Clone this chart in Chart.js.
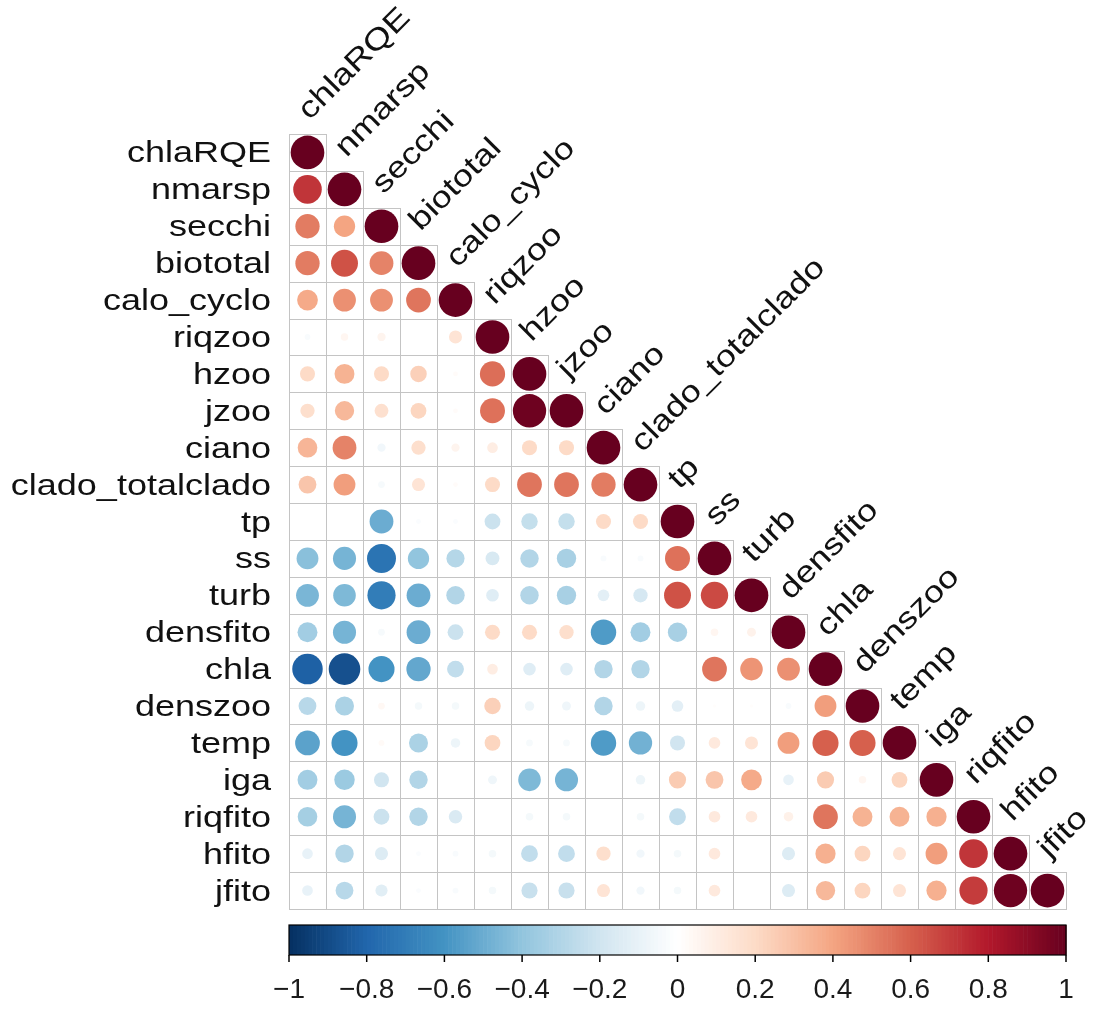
<!DOCTYPE html>
<html>
<head>
<meta charset="utf-8">
<script src="https://cdn.jsdelivr.net/npm/chart.js@4/dist/chart.umd.min.js"></script>
<style>
  html, body { margin: 0; padding: 0; background: #ffffff; }
  #wrap { width: 1095px; height: 1009px; }
</style>
</head>
<body>
<div id="wrap"><canvas id="c" width="1095" height="1009"></canvas></div>
<script>
// Variable names (rows top->bottom, columns left->right)
const variables = ["chlaRQE","nmarsp","secchi","biototal","calo_cyclo","riqzoo","hzoo","jzoo","ciano","clado_totalclado","tp","ss","turb","densfito","chla","denszoo","temp","iga","riqfito","hfito","jfito"];

// Lower-triangle correlations, one array per row (columns 0..row)
const chlaRQE          = [1];
const nmarsp           = [0.72, 1];
const secchi           = [0.52, 0.40, 1];
const biototal         = [0.52, 0.64, 0.50, 1];
const calo_cyclo       = [0.38, 0.46, 0.46, 0.54, 1];
const riqzoo           = [-0.03, 0.05, 0.06, 0.00, 0.15, 1];
const hzoo             = [0.20, 0.35, 0.20, 0.24, 0.02, 0.56, 1];
const jzoo             = [0.18, 0.33, 0.17, 0.22, 0.02, 0.55, 0.98, 1];
const ciano            = [0.34, 0.50, -0.06, 0.18, 0.06, 0.10, 0.20, 0.20, 1];
const clado_totalclado = [0.28, 0.42, -0.04, 0.15, 0.02, 0.20, 0.54, 0.54, 0.52, 1];
const tp               = [0.00, 0.00, -0.50, -0.02, -0.02, -0.22, -0.24, -0.24, 0.20, 0.20, 1];
const ss               = [-0.42, -0.47, -0.74, -0.40, -0.29, -0.17, -0.30, -0.33, -0.03, -0.03, 0.55, 1];
const turb             = [-0.46, -0.45, -0.70, -0.50, -0.30, -0.14, -0.30, -0.33, -0.12, -0.18, 0.64, 0.66, 1];
const densfito         = [-0.35, -0.47, -0.04, -0.50, -0.22, 0.20, 0.20, 0.18, -0.57, -0.35, -0.33, 0.05, 0.07, 1];
const chla             = [-0.82, -0.88, -0.60, -0.52, -0.25, 0.10, -0.14, -0.14, -0.30, -0.30, 0.00, 0.54, 0.45, 0.46, 1];
const denszoo          = [-0.28, -0.32, 0.04, -0.05, -0.05, 0.24, -0.08, -0.07, -0.30, -0.08, -0.12, 0.01, 0.01, -0.03, 0.42, 1];
const temp             = [-0.54, -0.60, 0.03, -0.32, -0.08, 0.22, -0.04, -0.04, -0.57, -0.48, -0.20, 0.12, 0.15, 0.42, 0.60, 0.60, 1];
const iga              = [-0.35, -0.37, -0.20, -0.30, 0.00, -0.07, -0.45, -0.47, 0.00, -0.08, 0.26, 0.28, 0.38, -0.10, 0.26, 0.05, 0.22, 1];
const riqfito          = [-0.34, -0.47, -0.22, -0.30, -0.16, 0.00, -0.05, -0.05, 0.00, -0.05, -0.25, 0.12, 0.12, 0.08, 0.54, 0.35, 0.35, 0.36, 1];
const hfito            = [-0.10, -0.30, -0.15, -0.02, -0.03, -0.05, -0.25, -0.25, 0.18, -0.06, -0.05, 0.12, 0.00, -0.15, 0.36, 0.22, 0.15, 0.42, 0.72, 1];
const jfito            = [-0.10, -0.28, -0.13, -0.02, -0.03, -0.05, -0.23, -0.23, 0.15, -0.06, -0.05, 0.12, 0.00, -0.15, 0.33, 0.22, 0.15, 0.36, 0.70, 0.98, 1];

const corrRows = [chlaRQE, nmarsp, secchi, biototal, calo_cyclo, riqzoo, hzoo, jzoo, ciano, clado_totalclado, tp, ss, turb, densfito, chla, denszoo, temp, iga, riqfito, hfito, jfito];

// Colour bar tick labels
const colorbarTicks = [-1, -0.8, -0.6, -0.4, -0.2, 0, 0.2, 0.4, 0.6, 0.8, 1];
const colorbarLabels = ["\u22121", "\u22120.8", "\u22120.6", "\u22120.4", "\u22120.2", "0", "0.2", "0.4", "0.6", "0.8", "1"];

// RdBu palette stops from -1 to 1
const paletteStops = ["#053061","#2166AC","#4393C3","#92C5DE","#D1E5F0","#FFFFFF","#FDDBC7","#F4A582","#D6604D","#B2182B","#67001F"];

function hexToRgb(h) {
  return [parseInt(h.slice(1,3),16), parseInt(h.slice(3,5),16), parseInt(h.slice(5,7),16)];
}
const stopRgb = paletteStops.map(hexToRgb);
function colorFor(v) {
  let t = (Math.max(-1, Math.min(1, v)) + 1) / 2 * (stopRgb.length - 1);
  let i = Math.min(Math.floor(t), stopRgb.length - 2);
  let f = t - i;
  const a = stopRgb[i], b = stopRgb[i+1];
  const c = a.map((x, k) => Math.round(x + (b[k] - x) * f));
  return `rgb(${c[0]},${c[1]},${c[2]})`;
}

const points = [];
corrRows.forEach((row, i) => {
  row.forEach((v, j) => points.push({ x: j, y: i, v: v }));
});

const FONT = '"Liberation Sans", Arial, Helvetica, sans-serif';
const STRETCH = 1.2;
const N = variables.length;

const corrDecor = {
  id: 'corrDecor',
  beforeDatasetsDraw(chart) {
    const ctx = chart.ctx;
    const xs = chart.scales.x, ys = chart.scales.y;
    ctx.save();
    ctx.strokeStyle = '#c4c4c4';
    ctx.lineWidth = 1;
    for (let i = 0; i < N; i++) {
      for (let j = 0; j <= i; j++) {
        const x0 = Math.round(xs.getPixelForValue(j - 0.5)) + 0.5;
        const x1 = Math.round(xs.getPixelForValue(j + 0.5)) + 0.5;
        const y0 = Math.round(ys.getPixelForValue(i - 0.5)) + 0.5;
        const y1 = Math.round(ys.getPixelForValue(i + 0.5)) + 0.5;
        ctx.strokeRect(x0, y0, x1 - x0, y1 - y0);
      }
    }
    ctx.restore();
  },
  afterDraw(chart) {
    const ctx = chart.ctx;
    const xs = chart.scales.x, ys = chart.scales.y;
    const area = chart.chartArea;
    ctx.save();
    ctx.fillStyle = '#111';
    ctx.font = '30px ' + FONT;
    // Row labels
    ctx.textAlign = 'right';
    ctx.textBaseline = 'alphabetic';
    variables.forEach((name, i) => {
      const y = ys.getPixelForValue(i) + 10;
      ctx.save();
      ctx.translate(area.left - 18, y);
      ctx.scale(STRETCH, 1);
      ctx.fillText(name, 0, 0);
      ctx.restore();
    });
    // Diagonal column labels
    ctx.textAlign = 'left';
    variables.forEach((name, j) => {
      const x = xs.getPixelForValue(j) + 2;
      const y = ys.getPixelForValue(j - 0.5) - 13;
      ctx.save();
      ctx.translate(x, y);
      ctx.rotate(-Math.PI / 4);
      ctx.scale(STRETCH, 1);
      ctx.fillText(name, 0, 0);
      ctx.restore();
    });
    // Colour bar
    const toX = v => xs.getPixelForValue((v + 1) / 2 * N - 0.5);
    const top = area.bottom + 16, bot = area.bottom + 46;
    const steps = 200;
    for (let k = 0; k < steps; k++) {
      const v0 = -1 + 2 * k / steps, v1 = -1 + 2 * (k + 1) / steps;
      ctx.fillStyle = colorFor((v0 + v1) / 2);
      const xa = toX(v0), xb = toX(v1);
      ctx.fillRect(xa, top, xb - xa + 0.6, bot - top);
    }
    ctx.strokeStyle = '#000';
    ctx.lineWidth = 1.2;
    ctx.strokeRect(toX(-1), top, toX(1) - toX(-1), bot - top);
    ctx.lineWidth = 1.5;
    ctx.fillStyle = '#1a1a1a';
    ctx.font = '28px ' + FONT;
    ctx.textAlign = 'center';
    colorbarTicks.forEach((t, k) => {
      const x = toX(t);
      ctx.beginPath();
      ctx.moveTo(x, bot);
      ctx.lineTo(x, bot + 7);
      ctx.stroke();
      ctx.fillText(colorbarLabels[k], x, bot + 43);
    });
    ctx.restore();
  }
};

new Chart(document.getElementById('c'), {
  type: 'scatter',
  data: {
    datasets: [{
      data: points,
      pointStyle: 'circle',
      pointRadius: (c) => {
        const area = c.chart.chartArea;
        const cell = area ? (area.right - area.left) / N : 37;
        const v = c.raw ? c.raw.v : 0;
        return Math.sqrt(Math.abs(v)) * cell * 0.455;
      },
      pointHoverRadius: (c) => {
        const area = c.chart.chartArea;
        const cell = area ? (area.right - area.left) / N : 37;
        const v = c.raw ? c.raw.v : 0;
        return Math.sqrt(Math.abs(v)) * cell * 0.455;
      },
      pointBackgroundColor: (c) => colorFor(c.raw ? c.raw.v : 0),
      pointBorderWidth: 0,
      pointBorderColor: 'rgba(0,0,0,0)'
    }]
  },
  options: {
    responsive: false,
    animation: false,
    events: [],
    layout: { padding: { left: 289, right: 29, top: 134, bottom: 100 } },
    scales: {
      x: { type: 'linear', min: -0.5, max: N - 0.5, display: false },
      y: { type: 'linear', min: -0.5, max: N - 0.5, reverse: true, display: false }
    },
    plugins: { legend: { display: false }, tooltip: { enabled: false } }
  },
  plugins: [corrDecor]
});
</script>
</body>
</html>
